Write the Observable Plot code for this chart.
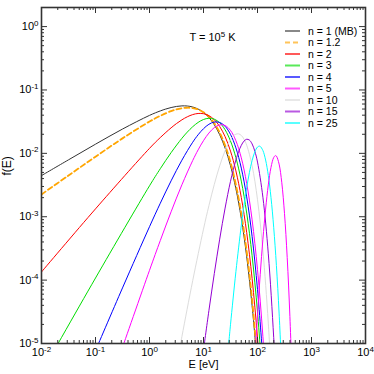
<!DOCTYPE html>
<html><head><meta charset="utf-8">
<script src="https://cdn.jsdelivr.net/npm/d3@7"></script>
<script src="https://cdn.jsdelivr.net/npm/@observablehq/plot@0.6"></script>
<style>body{margin:0;background:#fff}</style>
</head><body><div id="chart"></div>
<script>
// ---- data: [E (eV), f(E)] ----
const n1 = [[0.01,0.00446],[0.03162,0.0079],[0.1,0.01395],[0.3162,0.02417],[1,0.03972],[1.585,0.04673],[1.995,0.04999],[2.512,0.05282],[3.162,0.05496],[3.981,0.05608],[5.012,0.05582],[6.31,0.05388],[7.943,0.05002],[10,0.0442],[12.59,0.03672],[15.85,0.02823],[19.95,0.01967],[25.12,0.01212],[31.62,0.00639],[39.81,0.00277],[50.12,9.41e-4],[63.1,2.34e-4],[79.43,3.95e-5],[89.13,1.36e-5],[100,4.07e-6]];
const n1_2 = [[0.01,0.002248],[0.03162,0.004476],[0.1,0.008857],[0.3162,0.01723],[1,0.03177],[1.585,0.03913],[2.512,0.04632],[3.162,0.04931],[3.981,0.05149],[5.012,0.05245],[6.31,0.0518],[7.943,0.04921],[10,0.0445],[12.59,0.03783],[15.85,0.02976],[19.95,0.02122],[25.12,0.01338],[31.62,0.007223],[39.81,0.003206],[50.12,0.001112],[63.1,2.834e-4],[79.43,4.886e-5],[100,5.16e-6]];
const n2 = [[0.01,1.345e-4],[0.1,0.001331],[1,0.01199],[1.585,0.01776],[2.512,0.02527],[3.162,0.02951],[3.981,0.03378],[5.012,0.03773],[6.31,0.04087],[7.943,0.04257],[10,0.04221],[12.59,0.03934],[15.85,0.03392],[19.95,0.02652],[25.12,0.01834],[31.62,0.01085],[39.81,0.005282],[50.12,0.002011],[63.1,5.615e-4],[79.43,1.062e-4],[100,1.228e-5],[125.9,7.66e-7]];
const n3 = [[0.01,3.45e-6],[0.1,1.079e-4],[1,0.003074],[1.585,0.005729],[2.512,0.01026],[3.981,0.01727],[5.012,0.02165],[6.31,0.0263],[7.943,0.03074],[10,0.0342],[12.59,0.03577],[15.85,0.03461],[19.95,0.03037],[25.12,0.02355],[31.62,0.01564],[39.81,0.008544],[50.12,0.003648],[63.1,0.001143],[79.43,2.424e-4],[100,3.148e-5],[125.9,2.2e-6]];
const n4 = [[0.1,7.72e-6],[0.3162,7.53e-5],[1,6.96e-4],[1.585,0.001633],[2.512,0.003684],[3.981,0.0078],[6.31,0.01496],[7.943,0.01962],[10,0.02448],[12.59,0.02874],[15.85,0.0312],[19.95,0.03071],[25.12,0.02673],[31.62,0.01992],[39.81,0.0122],[50.12,0.005847],[63.1,0.002056],[79.43,4.893e-4],[100,7.13e-5],[125.9,5.6e-6]];
const n5 = [[0.3162,8.69e-6],[1,1.427e-4],[1.585,4.216e-4],[2.512,0.001197],[3.981,0.003192],[6.31,0.0077],[7.943,0.01133],[10,0.01587],[12.59,0.0209],[15.85,0.02546],[19.95,0.02813],[25.12,0.02747],[31.62,0.02296],[39.81,0.01579],[50.12,0.008489],[63.1,0.003347],[79.43,8.94e-4],[100,1.462e-4],[125.9,1.288e-5],[158.5,5.2e-7]];
const n10 = [[3.162,4.46e-6],[3.981,1.283e-5],[6.31,9.79e-5],[10,6.378e-4],[12.59,0.001494],[15.85,0.003236],[19.95,0.006355],[25.12,0.01103],[31.62,0.0164],[35.48,0.01864],[39.81,0.02006],[44.67,0.0203],[50.12,0.01917],[56.23,0.01677],[63.1,0.01345],[79.43,0.006387],[100,0.001857],[125.9,2.91e-4],[158.5,2.094e-5],[199.5,5.66e-7]];
const n15 = [[10,7.91e-6],[12.59,3.295e-5],[15.85,1.269e-4],[19.95,4.433e-4],[25.12,0.001369],[31.62,0.003619],[39.81,0.007867],[44.67,0.01062],[50.12,0.01338],[56.23,0.0156],[63.1,0.01669],[70.79,0.0162],[79.43,0.01409],[89.13,0.01085],[100,0.00729],[125.9,0.00203],[158.5,2.598e-4],[199.5,1.249e-5],[223.9,1.75e-6]];
const n25 = [[28.18,6.99e-6],[31.62,1.977e-5],[39.81,1.359e-4],[50.12,7.306e-4],[56.23,0.001515],[63.1,0.002882],[70.79,0.004975],[79.43,0.007694],[89.13,0.01054],[100,0.01258],[107.7,0.013],[112.2,0.01288],[125.9,0.01108],[141.3,0.007859],[158.5,0.004486],[177.8,0.002007],[199.5,6.82e-4],[223.9,1.704e-4],[251.2,3.02e-5],[281.8,3.63e-6]];
const n50 = [[89.13,5.6e-6],[100,2.82e-5],[112.2,1.217e-4],[125.9,4.419e-4],[141.3,0.001321],[158.5,0.003181],[177.8,0.005998],[199.5,0.008599],[215.3,0.00923],[223.9,0.009059],[251.2,0.006771],[281.8,0.003433],[316.2,0.001129],[354.8,2.279e-4],[398.1,2.667e-5],[446.7,1.69e-6]];

const legendLabels = ["n = 1 (MB)","n = 1.2","n = 2","n = 3","n = 4","n = 5","n = 10","n = 15","n = 25"];
const seriesData   = [n1, n1_2, n2, n3, n4, n5, n10, n15, n25, n50];
const seriesColors = ["#333333","#ffa500","#ff0000","#00dd00","#0000ff","#ff00ff","#dcdcdc","#9400d3","#00ffff","#ff00ff"];

const xTicks = [1e-2,1e-1,1e0,1e1,1e2,1e3,1e4];
const xTickExp = ["-2","-1","0","1","2","3","4"];
const yTicks = [1e-5,1e-4,1e-3,1e-2,1e-1,1e0];
const yTickExp = ["-5","-4","-3","-2","-1","0"];
const xDomain = [1e-2,1e4];
const yDomain = [1e-5,2];

// ---- layout ----
const W = 374, H = 374, mL = 41, mR = 9, mT = 7, mB = 31;
const iw = W - mL - mR, ih = H - mT - mB;
const isDecade = v => Math.abs(Math.log10(v) - Math.round(Math.log10(v))) < 1e-6;
const xMinor = d3.scaleLog().domain(xDomain).ticks().filter(v => !isDecade(v));
const yMinor = d3.scaleLog().domain(yDomain).ticks().filter(v => !isDecade(v) && v < yDomain[1]);
const axisColor = "#333";

const marks = [];
seriesData.forEach((s, i) => {
  marks.push(Plot.line(s, {x: d => d[0], y: d => d[1], stroke: seriesColors[i],
    strokeWidth: i === 1 ? 1.8 : 1, strokeDasharray: i === 1 ? "5,3" : null,
    curve: "catmull-rom", clip: true}));
});
// inward ticks on all four sides
const MAJ = 6, MIN = 3;
marks.push(
  Plot.tickX(xTicks, {x: d => d, insetTop: ih - MAJ, stroke: axisColor}),
  Plot.tickX(xMinor, {x: d => d, insetTop: ih - MIN, stroke: axisColor}),
  Plot.tickX(xTicks, {x: d => d, insetBottom: ih - MAJ, stroke: axisColor}),
  Plot.tickX(xMinor, {x: d => d, insetBottom: ih - MIN, stroke: axisColor}),
  Plot.tickY(yTicks, {y: d => d, insetRight: iw - MAJ, stroke: axisColor}),
  Plot.tickY(yMinor, {y: d => d, insetRight: iw - MIN, stroke: axisColor}),
  Plot.tickY(yTicks, {y: d => d, insetLeft: iw - MAJ, stroke: axisColor}),
  Plot.tickY(yMinor, {y: d => d, insetLeft: iw - MIN, stroke: axisColor}),
  Plot.frame({stroke: axisColor, strokeWidth: 1.6}),
  Plot.axisX(xTicks, {anchor: "bottom", tickSize: 0, tickPadding: 5, label: null,
    tickFormat: d => "10^" + xTickExp[xTicks.indexOf(d)]}),
  Plot.axisY(yTicks, {anchor: "left", tickSize: 0, tickPadding: 3, label: null,
    tickFormat: d => "10^" + yTickExp[yTicks.indexOf(d)]}),
  Plot.text(["E [eV]"], {frameAnchor: "bottom", dy: 24.5, text: d => d, fontSize: 11}),
  Plot.text(["f(E)"], {frameAnchor: "left", dx: -34, rotate: -90, text: d => d, fontSize: 12}),
  Plot.text(["T = 10^5^ K"], {frameAnchor: "top", dx: 9, dy: 26, text: d => d, fontSize: 11})
);

const chart = Plot.plot({
  width: W, height: H,
  marginLeft: mL, marginRight: mR, marginTop: mT, marginBottom: mB,
  style: {fontFamily: "'Liberation Sans', Arial, sans-serif", fontSize: "11px", background: "#fff", color: "#000"},
  x: {type: "log", domain: xDomain},
  y: {type: "log", domain: yDomain},
  marks
});
document.getElementById("chart").appendChild(chart);

// superscripts
const svg = d3.select(chart);
svg.selectAll("text").each(function() {
  const s = this.textContent;
  if (!s.includes("^")) return;
  const parts = s.split("^");
  const el = d3.select(this);
  el.text("");
  el.append("tspan").text(parts[0]);
  el.append("tspan").attr("dy", "-4.5").attr("font-size", "8px").text(parts[1]);
  if (parts[2]) el.append("tspan").attr("dy", "4.5").text(parts[2]);
});

// legend
const lg = svg.append("g").attr("font-size", "10.5px").attr("text-anchor", "start")
  .attr("font-family", "'Liberation Sans', Arial, sans-serif");
legendLabels.forEach((lab, i) => {
  const y = 31 + i * 11.5;
  lg.append("line").attr("x1", 285).attr("x2", 300).attr("y1", y).attr("y2", y)
    .attr("stroke", i === 0 ? "#888" : seriesColors[i]).attr("stroke-width", 2)
    .attr("stroke-opacity", i === 0 ? 1 : 0.65)
    .attr("stroke-dasharray", i === 1 ? "5,3" : null);
  lg.append("text").attr("x", 308).attr("y", y).attr("dy", "0.35em").attr("text-anchor", "start").text(lab);
});
</script>
</body></html>
